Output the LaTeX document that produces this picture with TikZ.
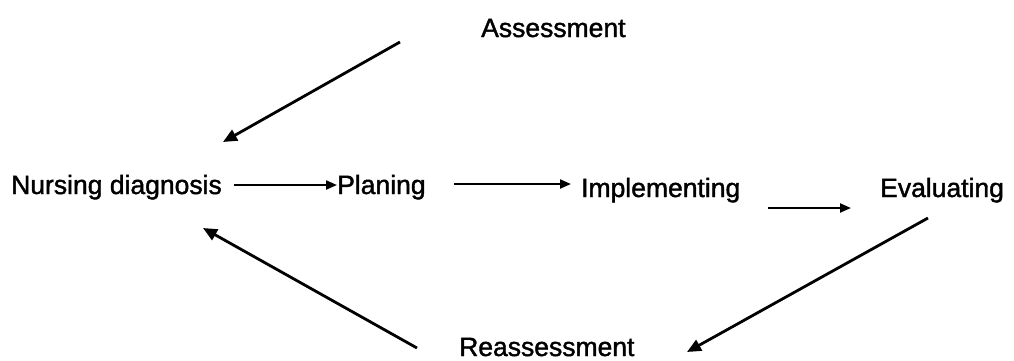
\documentclass[tikz,border=0pt]{standalone}
\usepackage{fontspec}
\setmainfont{Liberation Sans}
\newfontfamily\lblfont[FakeBold=1.5]{Liberation Sans}
\usetikzlibrary{arrows.meta}
\begin{document}
\begin{tikzpicture}[x=1pt,y=-1pt,
  lbl/.style={inner sep=0pt,anchor=base west,font=\lblfont\fontsize{26.5}{31}\selectfont},
  arr/.style={line width=2.8pt,-{Triangle[length=14pt,width=12pt]}},
  harr/.style={line width=2.2pt,-{Triangle[length=11pt,width=9pt]}}]
\useasboundingbox[fill=white] (0,0) rectangle (1014,360);
\node[lbl] (ass) at (481,37) {Assessment};
\node[lbl] (nd) at (11,194) {Nursing diagnosis};
\node[lbl] (pl) at (337,194) {Planing};
\node[lbl] (im) at (581,197) {Implementing};
\node[lbl] (ev) at (880,197) {Evaluating};
\node[lbl] (re) at (459,356) {Reassessment};
\coordinate (a1s) at (400,42);
\coordinate (a1e) at (223,142);
\coordinate (a4s) at (768,208);
\coordinate (a4e) at (851,208);
\coordinate (a5s) at (928,218);
\coordinate (a5e) at (687,352);
\coordinate (a6s) at (417,348);
\coordinate (a6e) at (203,228);
\draw[arr] (a1s) -- (a1e);
\draw[harr] (nd.east |- 0,185) ++(12,0) -- (pl.west |- 0,185);
\draw[harr] (pl.east |- 0,184) ++(28,0) -- ([xshift=-10pt]im.west |- 0,184);
\draw[harr] (a4s) -- (a4e);
\draw[arr] (a5s) -- (a5e);
\draw[arr] (a6s) -- (a6e);
\end{tikzpicture}
\end{document}
